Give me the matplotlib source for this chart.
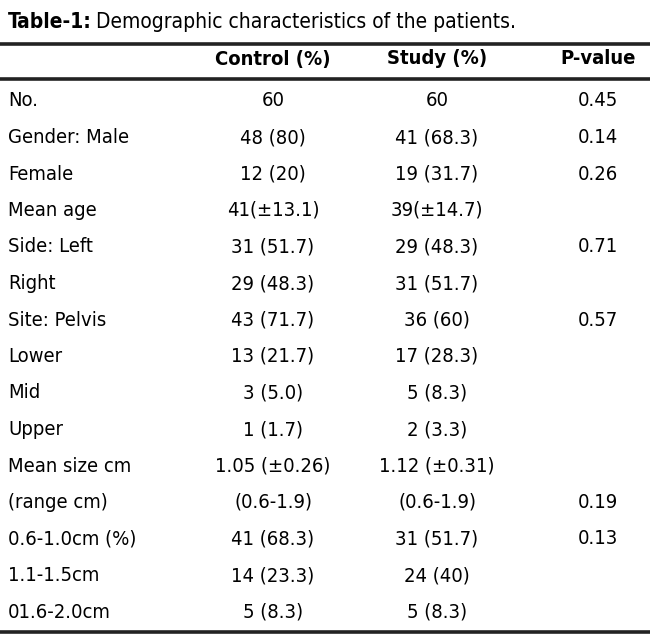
import matplotlib.pyplot as plt
from matplotlib import font_manager

# table contents
labels = ["No.", "Gender: Male", "Female", "Mean age", "Side: Left", "Right",
          "Site: Pelvis", "Lower", "Mid", "Upper", "Mean size cm", "(range cm)",
          "0.6-1.0cm (%)", "1.1-1.5cm", "01.6-2.0cm"]
control = ["60", "48 (80)", "12 (20)", "41(\u00b113.1)", "31 (51.7)", "29 (48.3)",
           "43 (71.7)", "13 (21.7)", "3 (5.0)", "1 (1.7)", "1.05 (\u00b10.26)",
           "(0.6-1.9)", "41 (68.3)", "14 (23.3)", "5 (8.3)"]
study = ["60", "41 (68.3)", "19 (31.7)", "39(\u00b114.7)", "29 (48.3)", "31 (51.7)",
         "36 (60)", "17 (28.3)", "5 (8.3)", "2 (3.3)", "1.12 (\u00b10.31)",
         "(0.6-1.9)", "31 (51.7)", "24 (40)", "5 (8.3)"]
pvalue = ["0.45", "0.14", "0.26", "", "0.71", "", "0.57", "", "", "", "",
          "0.19", "0.13", "", ""]
headers = ["Control (%)", "Study (%)", "P-value"]

# pick a narrow face if one is around
fl = font_manager.fontManager.ttflist
narrow = [f for f in fl if f.name == "DejaVu Sans" and f.stretch == "condensed"]
if narrow:
    plt.rcParams['font.family'] = ['DejaVu Sans']
    plt.rcParams['font.stretch'] = 'condensed'
    fs = 14.5
else:
    fs = 13.5

W, H = 650, 641
fig = plt.figure(figsize=(6.5, 6.41), dpi=100)
ax = fig.add_axes([0, 0, 1, 1])
ax.set_xlim(0, W)
ax.set_ylim(H, 0)
ax.axis('off')

t1 = ax.text(8, 22, "Table-1:", fontsize=fs + 0.5, fontweight='bold', va='center', ha='left')
fig.canvas.draw()
bb = t1.get_window_extent()
ax.text(8 + bb.width + 4, 22, "Demographic characteristics of the patients.",
        fontsize=fs + 0.5, va='center', ha='left')

for y in (44, 79, 632):
    ax.plot([0, W], [y, y], color='#222222', lw=2.6, solid_capstyle='butt')

cols = [273, 437, 598]
for x, h in zip(cols, headers):
    ax.text(x, 59, h, fontsize=fs, fontweight='bold', ha='center', va='center')

y0, dy = 101, 36.5
for i, lab in enumerate(labels):
    y = y0 + i * dy
    ax.text(8, y, lab, fontsize=fs, ha='left', va='center')
    ax.text(cols[0], y, control[i], fontsize=fs, ha='center', va='center')
    ax.text(cols[1], y, study[i], fontsize=fs, ha='center', va='center')
    ax.text(cols[2], y, pvalue[i], fontsize=fs, ha='center', va='center')

fig.savefig("out.png", dpi=100)
